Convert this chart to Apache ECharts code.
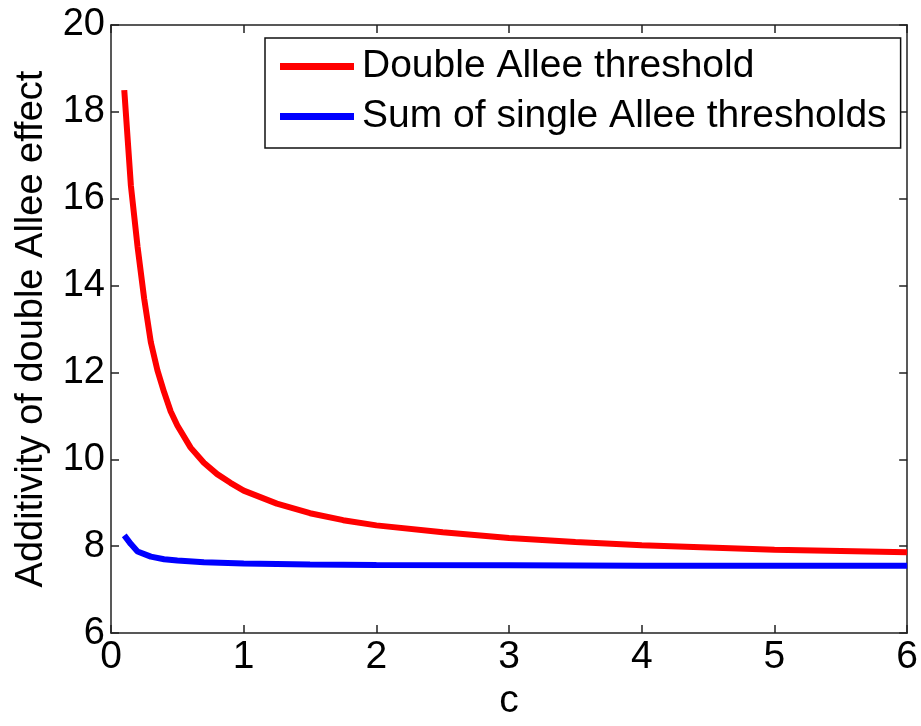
<!DOCTYPE html>
<html>
<head>
<meta charset="utf-8">
<script src="https://cdn.jsdelivr.net/npm/echarts@6/dist/echarts.min.js"></script>
<style>
html,body{margin:0;padding:0;background:#fff;}
#main{width:921px;height:726px;}
</style>
</head>
<body>
<div id="main"></div>
<script>
// Data
const cDouble = [0.1, 0.15, 0.2, 0.25, 0.3, 0.35, 0.4, 0.45, 0.5, 0.6, 0.7, 0.8, 0.9, 1.0, 1.25, 1.5, 1.75, 2.0, 2.5, 3.0, 3.5, 4.0, 4.5, 5.0, 5.5, 6.0];
const doubleThreshold = [18.5, 16.3, 14.9, 13.7, 12.7, 12.05, 11.55, 11.1, 10.78, 10.27, 9.92, 9.66, 9.46, 9.28, 8.98, 8.76, 8.6, 8.48, 8.32, 8.19, 8.1, 8.02, 7.97, 7.92, 7.89, 7.86];
const cSum = [0.1, 0.15, 0.2, 0.3, 0.4, 0.5, 0.7, 1.0, 1.5, 2.0, 3.0, 4.0, 5.0, 6.0];
const sumSingle = [8.25, 8.05, 7.88, 7.76, 7.7, 7.67, 7.63, 7.6, 7.58, 7.57, 7.56, 7.55, 7.55, 7.55];
const seriesNames = ['Double Allee threshold', 'Sum of single Allee thresholds'];
const xName = 'c';
const yName = 'Additivity of double Allee effect';

const zip = (xs, ys) => xs.map((x, i) => [x, ys[i]]);
const font = 'Liberation Sans, Arial, sans-serif';
const axisColor = '#222';

const chart = echarts.init(document.getElementById('main'), null, {renderer: 'canvas'});
chart.setOption({
  animation: false,
  backgroundColor: '#fff',
  grid: {left: 111, right: 12, top: 25, bottom: 89, containLabel: false},
  legend: {
    orient: 'vertical',
    left: 265,
    top: 38,
    data: seriesNames,
    icon: 'rect',
    itemWidth: 74,
    itemHeight: 7,
    itemGap: 11,
    padding: [9, 14, 12, 15],
    borderColor: '#111',
    borderWidth: 1.5,
    backgroundColor: '#fff',
    textStyle: {fontFamily: font, fontSize: 39, color: '#000', padding: [0, 0, 0, 3]}
  },
  xAxis: [{
    type: 'value', min: 0, max: 6, interval: 1, position: 'bottom',
    name: xName, nameLocation: 'middle', nameGap: 30,
    nameTextStyle: {fontFamily: font, fontSize: 39, color: '#000'},
    axisLine: {show: true, onZero: false, lineStyle: {color: axisColor, width: 1.5}},
    axisTick: {show: true, inside: true, length: 8, lineStyle: {color: axisColor, width: 1.5}},
    axisLabel: {fontFamily: font, fontSize: 39, color: '#000', margin: 5},
    splitLine: {show: false}
  }, {
    type: 'value', min: 0, max: 6, interval: 1, position: 'top',
    axisLine: {show: true, onZero: false, lineStyle: {color: axisColor, width: 1.5}},
    axisTick: {show: true, inside: true, length: 8, lineStyle: {color: axisColor, width: 1.5}},
    axisLabel: {show: false},
    splitLine: {show: false}
  }],
  yAxis: [{
    type: 'value', min: 6, max: 20, interval: 2, position: 'left',
    name: yName, nameLocation: 'middle', nameGap: 60,
    nameTextStyle: {fontFamily: font, fontSize: 38, color: '#000'},
    axisLine: {show: true, onZero: false, lineStyle: {color: axisColor, width: 1.5}},
    axisTick: {show: true, inside: true, length: 8, lineStyle: {color: axisColor, width: 1.5}},
    axisLabel: {fontFamily: font, fontSize: 38, color: '#000', margin: 6},
    splitLine: {show: false}
  }, {
    type: 'value', min: 6, max: 20, interval: 2, position: 'right',
    axisLine: {show: true, onZero: false, lineStyle: {color: axisColor, width: 1.5}},
    axisTick: {show: true, inside: true, length: 8, lineStyle: {color: axisColor, width: 1.5}},
    axisLabel: {show: false},
    splitLine: {show: false}
  }],
  series: [{
    name: seriesNames[0], type: 'line', xAxisIndex: 0, yAxisIndex: 0,
    data: zip(cDouble, doubleThreshold), smooth: false, showSymbol: false, symbol: 'none',
    lineStyle: {color: '#ff0000', width: 6}, itemStyle: {color: '#ff0000'}
  }, {
    name: seriesNames[1], type: 'line', xAxisIndex: 0, yAxisIndex: 0,
    data: zip(cSum, sumSingle), smooth: false, showSymbol: false, symbol: 'none',
    lineStyle: {color: '#0000ff', width: 6}, itemStyle: {color: '#0000ff'}
  }]
});
</script>
</body>
</html>
